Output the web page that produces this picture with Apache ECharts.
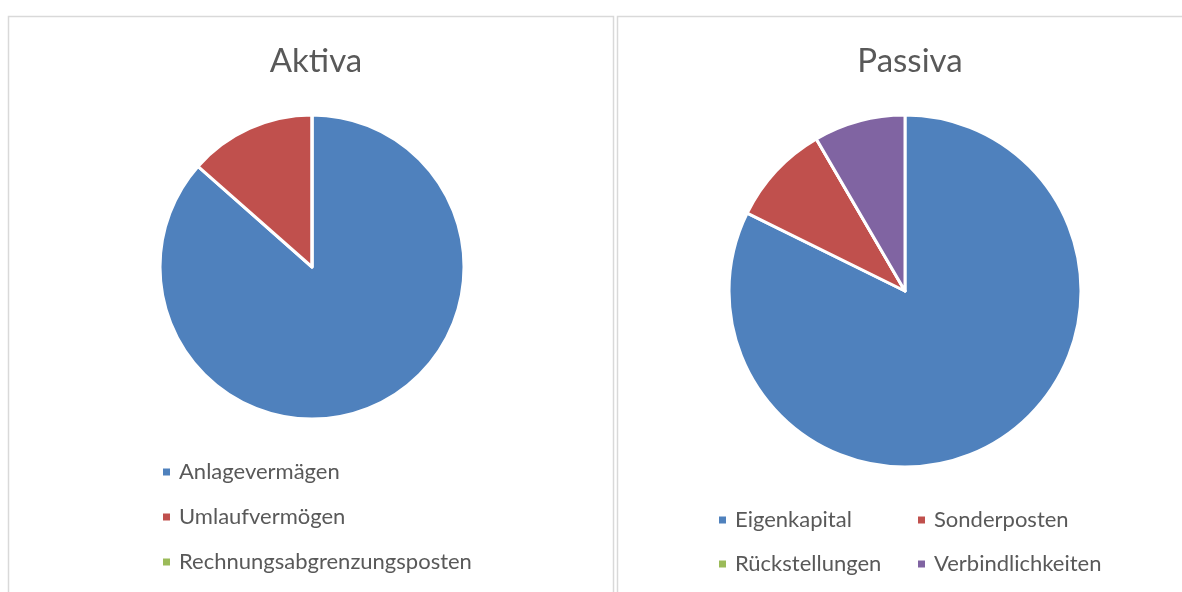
<!DOCTYPE html>
<html><head><meta charset="utf-8">
<script src="https://cdn.jsdelivr.net/npm/echarts@6/dist/echarts.min.js"></script>
<style>html,body{margin:0;padding:0;background:#fff}#c{width:1182px;height:592px}</style>
</head><body><div id="c"></div>
<script>
const aktivaCategories = ["Anlagevermägen", "Umlaufvermögen", "Rechnungsabgrenzungsposten"];
const aktivaValues = [86.5, 13.5, 0];
const passivaCategories = ["Eigenkapital", "Sonderposten", "Rückstellungen", "Verbindlichkeiten"];
const passivaValues = [82.3, 9.3, 0, 8.4];
const colors = ["#4F81BD", "#C0504D", "#9BBB59", "#8064A2"];
const titles = ["Aktiva", "Passiva"];

const FONT = "Lato, 'Open Sans', sans-serif";
const chart = echarts.init(document.getElementById('c'), null, {renderer: 'canvas'});

function legendAt(name, left, top) {
  return {
    data: [name], left: left, top: top, orient: 'vertical', padding: 0,
    itemWidth: 9, itemHeight: 9, itemGap: 0, icon: 'rect', selectedMode: false,
    textStyle: {fontFamily: FONT, fontSize: 22, color: '#595959', padding: [0, 0, 0, 3]}
  };
}

const legends = [
  legendAt(aktivaCategories[0], 161, 461),
  legendAt(aktivaCategories[1], 161, 506),
  legendAt(aktivaCategories[2], 161, 551),
  legendAt(passivaCategories[0], 717, 509),
  legendAt(passivaCategories[1], 916, 509),
  legendAt(passivaCategories[2], 717, 553),
  legendAt(passivaCategories[3], 916, 553)
];

function pieSeries(cats, vals, center, radius) {
  return {
    type: 'pie', center: center, radius: radius, startAngle: 90, clockwise: true,
    silent: true, animation: false, label: {show: false}, labelLine: {show: false},
    avoidLabelOverlap: false, stillShowZeroSum: true,
    itemStyle: {borderColor: '#fff', borderWidth: 3},
    data: cats.map((c, i) => ({name: c, value: vals[i], itemStyle: {color: colors[i]}}))
  };
}

chart.setOption({
  animation: false,
  color: colors,
  title: [
    {text: titles[0], left: 311, top: 40, textAlign: 'center', textStyle: {fontFamily: FONT, fontSize: 33, fontWeight: 'normal', color: '#595959'}},
    {text: titles[1], left: 905, top: 40, textAlign: 'center', textStyle: {fontFamily: FONT, fontSize: 33, fontWeight: 'normal', color: '#595959'}}
  ],
  legend: legends,
  graphic: [
    {type: 'rect', shape: {x: 8.5, y: 16.5, width: 605, height: 600}, style: {fill: 'none', stroke: '#d9d9d9', lineWidth: 1.5}, silent: true},
    {type: 'rect', shape: {x: 617.5, y: 16.5, width: 600, height: 600}, style: {fill: 'none', stroke: '#d9d9d9', lineWidth: 1.5}, silent: true}
  ],
  series: [
    pieSeries(aktivaCategories, aktivaValues, [312, 267], 152),
    pieSeries(passivaCategories, passivaValues, [905, 291], 176)
  ]
});
</script></body></html>
